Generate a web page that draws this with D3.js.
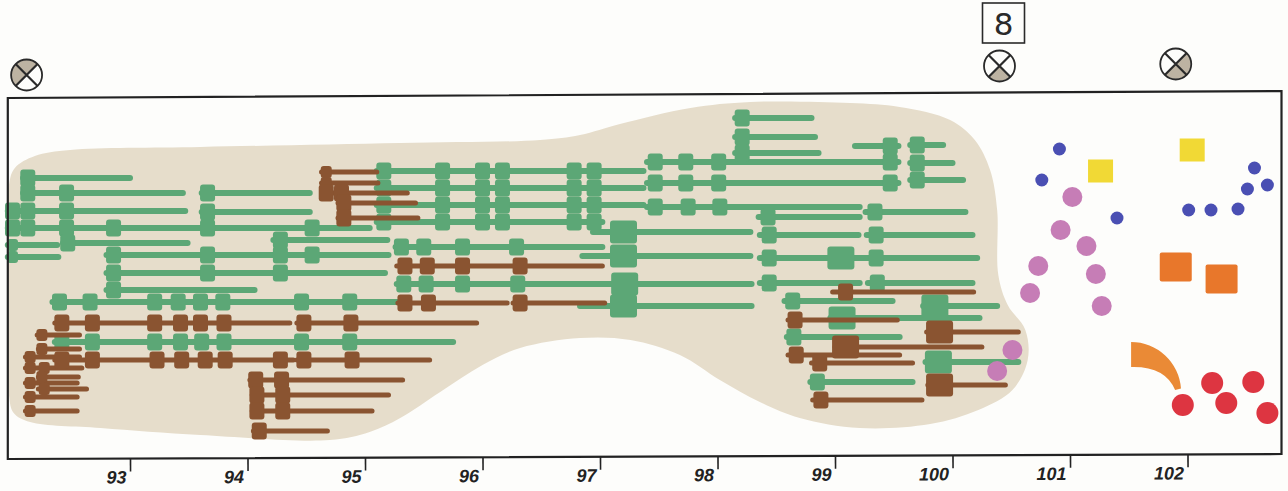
<!DOCTYPE html>
<html>
<head>
<meta charset="utf-8">
<script src="https://cdn.jsdelivr.net/npm/d3@7"></script>
<style>
  html, body { margin: 0; padding: 0; background: #fdfdfb; }
  svg { display: block; }
  .tick text { font-family: "Liberation Sans", sans-serif; font-style: italic; font-weight: bold; }
</style>
</head>
<body>
<svg id="chart" width="1288" height="491"></svg>
<script>
// years along the bottom
var years = [93, 94, 95, 96, 97, 98, 99, 100, 101, 102];

// bars: [lane, from, to, [nodes], [big nodes]]
var greenBars = [
  [8.0, 92.09, 93.00, [92.13]],
  [9.5, 92.09, 93.45, [92.13, 92.46]],
  [9.5, 93.61, 94.53, [93.66]],
  [11.3, 91.96, 93.47, [92.00, 92.13, 92.46]],
  [11.4, 93.61, 94.53, [93.66]],
  [13.0, 91.96, 95.04, [92.00, 92.13, 92.46, 92.86, 93.66, 94.55]],
  [14.7, 91.96, 92.38, [92.00]],
  [14.5, 92.43, 93.49, [92.47]],
  [14.2, 94.22, 95.19, [94.28]],
  [15.9, 91.96, 92.39, [92.00]],
  [15.7, 92.80, 95.20, [92.86, 93.66, 94.28, 94.55]],
  [17.5, 92.80, 95.17, [92.86, 93.66, 94.28]],
  [19.2, 92.80, 94.06, [92.86]],
  [20.4, 92.34, 95.30, [92.40, 92.66, 93.21, 93.41, 93.60, 93.79, 94.46, 94.87]],
  [24.4, 92.36, 95.75, [92.42, 92.68, 93.21, 93.43, 93.61, 93.80, 94.46, 94.87]],
  [7.3, 95.10, 97.37, [95.16, 95.66, 96.00, 96.17, 96.78, 96.95]],
  [9.0, 95.10, 97.37, [95.16, 95.66, 96.00, 96.17, 96.78, 96.95]],
  [10.7, 95.10, 97.37, [95.16, 95.66, 96.00, 96.17, 96.78, 96.95]],
  [12.4, 95.10, 97.02, [95.16, 95.66, 96.00, 96.17, 96.78, 96.95]],
  [13.4, 96.94, 98.28, [], [97.20]],
  [14.9, 95.26, 97.02, [95.31, 95.50, 95.83, 96.29]],
  [15.8, 96.85, 98.28, [], [97.20]],
  [18.6, 95.27, 98.29, [95.33, 95.52, 95.83, 96.30], [97.21]],
  [20.8, 96.83, 98.29, [], [97.20]],
  [2.0, 98.15, 98.80, [98.21]],
  [3.9, 98.15, 98.83, [98.21]],
  [5.5, 98.15, 98.86, [98.21]],
  [4.8, 99.17, 99.54, [99.47]],
  [4.7, 99.64, 99.92, [99.70]],
  [6.4, 97.40, 99.54, [97.47, 97.73, 98.01, 99.47]],
  [6.5, 99.64, 100.00, [99.70]],
  [8.5, 97.40, 99.54, [97.47, 97.73, 98.01, 99.47]],
  [8.2, 99.64, 100.09, [99.70]],
  [10.9, 97.40, 99.21, [97.47, 97.75, 98.02]],
  [11.9, 98.35, 99.21, [98.43]],
  [11.4, 99.26, 100.11, [99.34]],
  [13.7, 98.36, 99.20, [98.44]],
  [13.7, 99.27, 100.17, [99.35]],
  [16.0, 98.36, 100.21, [98.44, 99.35], [99.05]],
  [18.5, 98.36, 99.21, [98.44]],
  [18.5, 99.28, 100.17, [99.36]],
  [20.3, 98.57, 99.49, [98.64]],
  [20.8, 99.75, 100.38, [], [99.85]],
  [22.0, 98.96, 100.23, [], [99.06]],
  [23.9, 98.59, 99.55, [98.65]],
  [26.4, 99.77, 100.56, [], [99.88]],
  [28.4, 98.79, 99.66, [98.85]]
];

var brownBars = [
  [7.4, 94.63, 95.10, [94.67]],
  [8.5, 94.63, 95.11, [94.67]],
  [9.5, 94.63, 95.36, [94.67, 94.80]],
  [10.5, 94.77, 95.43, [94.82]],
  [12.0, 94.77, 95.45, [94.82]],
  [16.8, 95.27, 97.02, [95.34, 95.53, 95.83, 96.32]],
  [20.5, 95.28, 96.21, [95.34, 95.54]],
  [20.5, 96.26, 97.04, [96.32]],
  [22.5, 92.36, 94.36, [92.42, 92.68, 93.21, 93.43, 93.60, 93.80]],
  [22.5, 94.42, 95.95, [94.48, 94.88]],
  [26.2, 92.36, 94.39, [92.42, 92.68, 93.23, 93.44, 93.64, 93.81, 94.28]],
  [26.2, 94.42, 95.55, [94.48, 94.89]],
  [23.7, 92.21, 92.57, [92.25]],
  [25.1, 92.22, 92.57, [92.25]],
  [25.9, 92.11, 92.57, [92.15]],
  [27.0, 92.11, 92.59, [92.15, 92.27]],
  [27.9, 92.22, 92.56, [92.25]],
  [28.5, 92.11, 92.55, [92.15]],
  [29.1, 92.22, 92.63, [92.27]],
  [29.9, 92.11, 92.55, [92.15]],
  [31.3, 92.11, 92.55, [92.15]],
  [28.2, 94.02, 95.32, [94.07, 94.29]],
  [29.7, 94.04, 95.20, [94.08, 94.30]],
  [31.3, 94.04, 95.06, [94.08, 94.30]],
  [33.3, 94.05, 94.68, [94.10]],
  [19.4, 98.98, 100.18, [99.09]],
  [22.2, 98.60, 99.53, [98.66]],
  [23.4, 99.78, 100.56, [], [99.89]],
  [24.9, 99.00, 100.25, [], [99.09]],
  [25.7, 98.60, 99.55, [98.67]],
  [26.5, 98.80, 99.66, [98.87]],
  [28.7, 99.79, 100.45, [], [99.89]],
  [30.2, 98.81, 99.74, [98.88]]
];

// [year, lane]
var blueDots = [[100.91, 5.1], [100.76, 8.2], [101.40, 12.0], [102.01, 11.2], [102.20, 11.2],
  [102.43, 11.1], [102.51, 9.1], [102.68, 8.7], [102.57, 7.0]];
var pinkDots = [[101.02, 9.9], [100.92, 13.2], [101.14, 14.8], [100.73, 16.8], [101.22, 17.6],
  [100.66, 19.5], [101.27, 20.8], [100.51, 25.2], [100.38, 27.3]];
var redDots = [[102.21, 28.5], [102.56, 28.4], [101.96, 30.7], [102.33, 30.5], [102.68, 31.5]];
var yellowSquares = [[101.26, 7.3], [102.04, 5.2]];
var orangeSquares = [[101.90, 16.9], [102.29, 18.1]];
var orangeArc = [101.52, 29.4];

// circled crosses above the frame: [year, lane, shaded quarters]
var markers = [
  [92.12, -2.3, ['top', 'left']],
  [100.40, -3.2, ['bottom']],
  [101.90, -3.4, ['right', 'bottom']]
];
var boxLabel = '8';

// outline of the shaded area [year, lane]
var blobOutline = [
  [92.15, 32.4], [92.01, 31.5], [91.97, 29.7], [91.97, 20.2], [91.97, 8.7], [92.02, 7.0],
  [92.19, 5.8], [92.49, 5.2], [93.60, 4.9], [95.30, 4.5], [96.49, 4.2], [96.83, 3.7],
  [97.17, 2.6], [97.77, 1.0], [98.28, 0.4], [99.13, 0.5], [99.55, 0.9], [99.98, 2.2],
  [100.19, 4.2], [100.32, 7.2], [100.38, 11.2], [100.39, 17.7], [100.47, 20.7], [100.62, 23.2],
  [100.64, 26.2], [100.51, 29.2], [100.22, 31.2], [99.81, 32.6], [99.21, 33.0], [98.70, 32.0],
  [98.36, 30.4], [98.02, 28.2], [97.68, 25.7], [97.26, 24.2], [96.83, 24.0], [96.32, 25.0],
  [96.00, 26.7], [95.64, 29.4], [95.30, 32.0], [95.04, 33.4], [94.70, 34.2], [93.60, 33.7],
  [92.75, 33.0]
];

var frameCorners = [[91.96, 0], [102.80, -0.7], [102.80, 35.6], [91.96, 36.1]];

var svg = d3.select('#chart'),
    x = d3.scaleLinear().domain([93, 102]).range([130, 1187.5]),
    y = d3.scaleLinear().domain([0, 36]).range([98, 458]);

// background blob
svg.append('path')
  .datum(blobOutline)
  .attr('d', d3.line().x(d => x(d[0])).y(d => y(d[1])).curve(d3.curveCatmullRomClosed.alpha(0.5)))
  .attr('fill', '#e6ddcb');

function drawBars(data, color, lw) {
  var g = svg.append('g');
  g.selectAll('line').data(data).join('line')
    .attr('x1', d => x(d[1])).attr('x2', d => x(d[2]))
    .attr('y1', d => y(d[0])).attr('y2', d => y(d[0]))
    .attr('stroke', color).attr('stroke-width', lw).attr('stroke-linecap', 'round');
  // short bars at the far left carry smaller squares
  var nodes = data.flatMap(d => {
    var small = (d[2] - d[1]) < 0.5 && d[1] < 95;
    return d[3].map(n => ({lane: d[0], v: n, w: small ? 11 : 15, h: small ? 12 : 17}))
      .concat((d[4] || []).map(n => ({lane: d[0], v: n, w: 27, h: 23})));
  });
  g.selectAll('rect').data(nodes).join('rect')
    .attr('x', d => x(d.v) - d.w / 2)
    .attr('y', d => y(d.lane) - d.h / 2)
    .attr('width', d => d.w)
    .attr('height', d => d.h)
    .attr('rx', 3)
    .attr('fill', color);
}
drawBars(greenBars, '#5ca776', 6);
drawBars(brownBars, '#8a5431', 5);

// right-hand symbols
svg.append('g').selectAll('circle').data(blueDots).join('circle')
  .attr('cx', d => x(d[0])).attr('cy', d => y(d[1])).attr('r', 6.5).attr('fill', '#4a4fb3');
svg.append('g').selectAll('circle').data(pinkDots).join('circle')
  .attr('cx', d => x(d[0])).attr('cy', d => y(d[1])).attr('r', 10).attr('fill', '#c67db6');
svg.append('g').selectAll('circle').data(redDots).join('circle')
  .attr('cx', d => x(d[0])).attr('cy', d => y(d[1])).attr('r', 11).attr('fill', '#dd3541');
svg.append('g').selectAll('rect').data(yellowSquares).join('rect')
  .attr('x', d => x(d[0]) - 12.5).attr('y', d => y(d[1]) - 11.5)
  .attr('width', 25).attr('height', 23).attr('fill', '#f1d935');
svg.append('g').selectAll('rect').data(orangeSquares).join('rect')
  .attr('x', d => x(d[0]) - 16).attr('y', d => y(d[1]) - 14.5)
  .attr('width', 32).attr('height', 29).attr('rx', 2).attr('fill', '#e8772b');

(function() { // the curved orange piece
  var cx = x(orangeArc[0]), cy = y(orangeArc[1]), p = d3.path();
  p.moveTo(cx, cy - 50);
  p.arc(cx, cy, 50, -Math.PI / 2, -0.07);
  p.lineTo(cx + 44, cy - 2);
  p.quadraticCurveTo(cx + 34, cy - 26, cx, cy - 25);
  p.closePath();
  svg.append('path').attr('d', p.toString()).attr('fill', '#ea8a36');
})();

// frame
svg.append('path')
  .datum(frameCorners)
  .attr('d', d3.line().x(d => x(d[0])).y(d => y(d[1])).curve(d3.curveLinearClosed))
  .attr('fill', 'none').attr('stroke', '#222').attr('stroke-width', 2.2);

// axis, following the slightly tilted bottom edge
var axis = d3.axisBottom(x).tickValues(years).tickSize(13).tickSizeOuter(0).tickFormat(d3.format('d'));
var ag = svg.append('g')
  .attr('transform', 'translate(0,' + y(36.1) + ') rotate(' + (Math.atan2(y(35.6) - y(36.1), x(102.8) - x(91.96)) * 180 / Math.PI) + ',' + x(91.96) + ',0)')
  .call(axis);
ag.select('.domain').remove();
ag.selectAll('.tick line').attr('stroke', '#222').attr('stroke-width', 1.6);
ag.selectAll('.tick text')
  .attr('fill', '#222').attr('font-size', 18)
  .attr('text-anchor', 'end').attr('x', -4).attr('y', 25).attr('dy', null);

// circled crosses
var arc = d3.arc().innerRadius(0).outerRadius(15);
var quarter = {top: -Math.PI / 4, right: Math.PI / 4, bottom: 3 * Math.PI / 4, left: 5 * Math.PI / 4};
markers.forEach(function(m) {
  var g = svg.append('g').attr('transform', 'translate(' + x(m[0]) + ',' + y(m[1]) + ')');
  m[2].forEach(function(q) {
    g.append('path').attr('d', arc({startAngle: quarter[q], endAngle: quarter[q] + Math.PI / 2})).attr('fill', '#bdb3a2');
  });
  g.append('circle').attr('r', 15.5).attr('fill', 'none').attr('stroke', '#2a2a2a').attr('stroke-width', 1.8);
  var k = 15.5 * Math.SQRT1_2;
  g.append('path').attr('d', 'M' + (-k) + ',' + (-k) + 'L' + k + ',' + k + 'M' + k + ',' + (-k) + 'L' + (-k) + ',' + k)
    .attr('stroke', '#2a2a2a').attr('stroke-width', 2.2);
});

// boxed number over the middle marker
var bx = x(markers[1][0]), by = y(markers[1][1]);
svg.append('rect').attr('x', bx - 17).attr('y', by - 63).attr('width', 42).attr('height', 40)
  .attr('fill', 'none').attr('stroke', '#2a2a2a').attr('stroke-width', 1.6);
svg.append('text').attr('x', bx + 4).attr('y', by - 31).attr('text-anchor', 'middle')
  .attr('font-family', 'DejaVu Sans, sans-serif').attr('font-size', 31).attr('fill', '#2a2a2a')
  .text(boxLabel);
</script>
</body>
</html>
